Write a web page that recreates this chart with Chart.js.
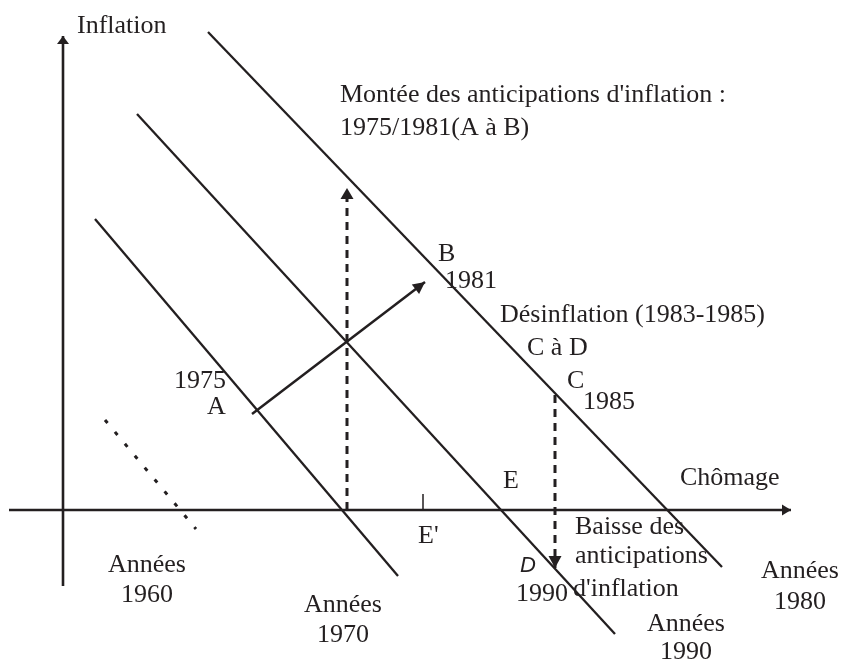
<!DOCTYPE html>
<html>
<head>
<meta charset="utf-8">
<title>Courbes de Phillips</title>
<script src="https://cdn.jsdelivr.net/npm/chart.js@4.4.0/dist/chart.umd.min.js"></script>
<style>
  html, body { margin: 0; padding: 0; background: #fff; }
  canvas { display: block; }
</style>
</head>
<body>
<canvas id="myChart" width="841" height="662"></canvas>
<script>
// repère : x = chômage, y = inflation (origine au croisement des axes)
const axisChomage = [[-5.4, 0], [72.8, 0]]
const axisInflation = [[0, -7.6], [0, 47.4]]

// courbes de Phillips par décennie
const curve1960 = [[4.2, 9.0], [13.3, -1.9]]
const curve1970 = [[3.2, 29.1], [33.5, -6.6]]
const curve1990 = [[7.4, 39.6], [55.2, -12.4]]
const curve1980 = [[14.5, 47.8], [65.9, -5.7]]

// déplacements
const moveAB = [[18.9, 9.6], [36.2, 22.8]]
const riseAnticip = [[28.4, 0], [28.4, 32.2]]
const fallAnticip = [[49.2, 11.5], [49.2, -5.8]]
const tickE2 = [[36.0, 1.6], [36.0, 0]]

// textes
const labelTexts = [
  'Inflation',
  "Montée des anticipations d'inflation :",
  '1975/1981(A à B)',
  'B', '1981',
  'Désinflation (1983-1985)',
  'C à D', 'C', '1985',
  '1975', 'A',
  'E', 'Chômage', "E'",
  'Baisse des', 'anticipations', "d'inflation",
  '1990'
]
const decadeLabels = ['Années', '1960', 'Années', '1970', 'Années', '1980', 'Années', '1990']

// mise en page des textes (ancre gauche / ligne de base, en unités du repère)
const labelAnchors = [
  [1.4, 47.7], [27.7, 40.8], [27.7, 37.5],
  [37.5, 24.9], [38.2, 22.2],
  [43.7, 18.8],
  [46.4, 15.5], [50.4, 12.2], [52.0, 10.1],
  [11.1, 12.2], [14.4, 9.6],
  [44.0, 2.2], [61.7, 2.5], [35.5, -3.3],
  [51.2, -2.4], [51.2, -5.3], [51.0, -8.6],
  [45.3, -9.1]
]
const decadeAnchors = [
  [8.4, -6.2], [8.4, -9.2], [28.0, -10.2], [28.0, -13.2],
  [73.7, -6.8], [73.7, -9.9], [62.3, -12.1], [62.3, -14.9]
]

const ink = '#231f20'
const serif = '26px "Liberation Serif", "Times New Roman", serif'

const toXY = arr => arr.map(p => ({x: p[0], y: p[1]}))

const line = (pts, extra) => Object.assign({
  data: toXY(pts),
  showLine: true,
  borderColor: ink,
  backgroundColor: ink,
  borderWidth: 2.3,
  pointRadius: 0,
  borderCapStyle: 'butt'
}, extra || {})

const arrowPlugin = {
  id: 'arrows',
  afterDatasetsDraw(chart) {
    const ctx = chart.ctx
    chart.data.datasets.forEach((ds, i) => {
      if (!ds.arrow) return
      const pts = chart.getDatasetMeta(i).data
      const a = pts[pts.length - 2], b = pts[pts.length - 1]
      const ang = Math.atan2(b.y - a.y, b.x - a.x)
      ctx.save()
      ctx.translate(b.x, b.y)
      ctx.rotate(ang)
      ctx.beginPath()
      ctx.moveTo(0, 0)
      ctx.lineTo(-ds.arrow.len, -ds.arrow.w / 2)
      ctx.lineTo(-ds.arrow.len, ds.arrow.w / 2)
      ctx.closePath()
      ctx.fillStyle = ink
      ctx.fill()
      ctx.restore()
    })
  }
}

// textes dessinés avant les traits : les droites passent par-dessus
const textPlugin = {
  id: 'texts',
  beforeDatasetsDraw(chart) {
    const ctx = chart.ctx
    const sx = chart.scales.x, sy = chart.scales.y
    ctx.save()
    ctx.fillStyle = ink
    ctx.textBaseline = 'alphabetic'
    ctx.font = serif
    ctx.textAlign = 'left'
    labelTexts.forEach((t, i) => {
      const p = labelAnchors[i]
      ctx.fillText(t, sx.getPixelForValue(p[0]), sy.getPixelForValue(p[1]))
    })
    ctx.textAlign = 'center'
    decadeLabels.forEach((t, i) => {
      const p = decadeAnchors[i]
      ctx.fillText(t, sx.getPixelForValue(p[0]), sy.getPixelForValue(p[1]))
    })
    // point D en italique
    ctx.textAlign = 'left'
    ctx.font = 'italic 22px "Liberation Sans", Arial, sans-serif'
    ctx.fillText('D', sx.getPixelForValue(45.7), sy.getPixelForValue(-6.2))
    ctx.restore()
  }
}

const ctx = document.getElementById('myChart').getContext('2d')
const chart = new Chart(ctx, {
  type: 'scatter',
  data: {
    datasets: [
      line(axisChomage, {borderWidth: 2.6, arrow: {len: 9, w: 11}}),
      line(axisInflation, {borderWidth: 2.6, arrow: {len: 8, w: 12}}),
      line(curve1960, {borderWidth: 3, borderDash: [4, 11.5]}),
      line(curve1970),
      line(curve1990),
      line(curve1980),
      line(moveAB, {borderWidth: 2.5, arrow: {len: 12, w: 12}}),
      line(riseAnticip, {borderWidth: 3, borderDash: [8, 6], arrow: {len: 11, w: 13}}),
      line(fallAnticip, {borderWidth: 3, borderDash: [8, 6], arrow: {len: 12, w: 13}}),
      line(tickE2, {borderWidth: 1.5})
    ]
  },
  options: {
    responsive: false,
    animation: false,
    layout: {padding: 0},
    scales: {
      x: {type: 'linear', min: -6.3, max: 77.8, display: false},
      y: {type: 'linear', min: -15.2, max: 51.0, display: false}
    },
    plugins: {
      legend: {display: false},
      tooltip: {enabled: false}
    }
  },
  plugins: [arrowPlugin, textPlugin]
})
</script>
</body>
</html>
